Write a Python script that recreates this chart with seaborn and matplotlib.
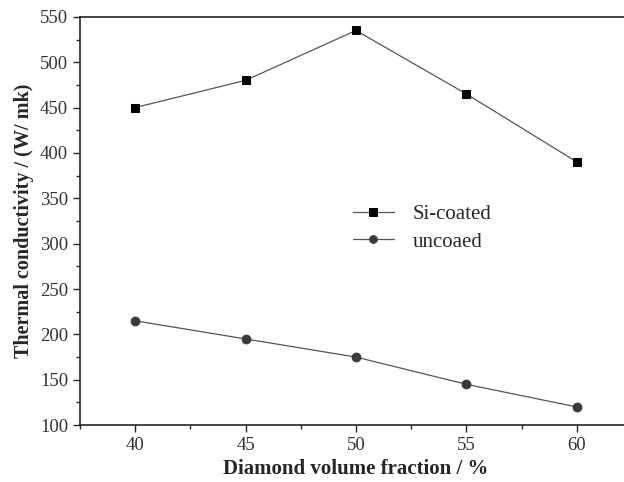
import numpy as np
import pandas as pd
import matplotlib
matplotlib.use('Agg')
import matplotlib.pyplot as plt
import seaborn as sns
from matplotlib.ticker import MultipleLocator

# ── data ──────────────────────────────────────────────────────────────────────
fraction = [40, 45, 50, 55, 60]
si_coated = [450, 480, 535, 465, 390]
uncoated = [215, 195, 175, 145, 120]
series_names = ['Si-coated', 'uncoaed']

df = pd.DataFrame({
    'fraction': fraction * 2,
    'tc': si_coated + uncoated,
    'series': [series_names[0]] * 5 + [series_names[1]] * 5,
})

sns.set_style('ticks')
plt.rcParams['font.family'] = ['Liberation Serif', 'DejaVu Serif']

fig = plt.figure(figsize=(6.24, 4.82), dpi=100)
ax = fig.add_axes([0.128, 0.118, 0.885, 0.847])

sns.lineplot(data=df, x='fraction', y='tc', hue='series', style='series',
             markers={'Si-coated': 's', 'uncoaed': 'o'}, dashes=False,
             palette={'Si-coated': '#555555', 'uncoaed': '#555555'},
             linewidth=0.9, markersize=6.3, ax=ax)

# marker faces
for line, fc in zip(ax.lines[:2], ['#000000', '#3a3a3a']):
    line.set_markerfacecolor(fc)
    line.set_markeredgecolor(fc)

ax.set_xlim(37.5, 62.5)
ax.set_ylim(100, 550)
ax.xaxis.set_major_locator(MultipleLocator(5))
ax.xaxis.set_minor_locator(MultipleLocator(2.5))
ax.yaxis.set_major_locator(MultipleLocator(50))
ax.yaxis.set_minor_locator(MultipleLocator(25))
ax.tick_params(which='major', direction='out', length=5, width=1,
               labelsize=13.5, labelcolor='#333333')
ax.tick_params(which='minor', direction='out', length=3, width=1)
for s in ax.spines.values():
    s.set_linewidth(1.2)

ax.set_xlabel('Diamond volume fraction / %', fontsize=15, fontweight='bold')
ax.set_ylabel('Thermal conductivity / (W/ mk)', fontsize=14.5, fontweight='bold')

handles, labels = ax.get_legend_handles_labels()
for h, fc in zip(handles, ['#000000', '#3a3a3a']):
    h.set_markerfacecolor(fc)
    h.set_markeredgecolor(fc)
    h.set_markersize(5.5)
ax.legend(handles, labels, loc='upper left', bbox_to_anchor=(0.46, 0.587),
          frameon=False, fontsize=15, handlelength=2.0, handletextpad=0.9,
          labelspacing=0.4)

fig.savefig('out.png', dpi=100)
